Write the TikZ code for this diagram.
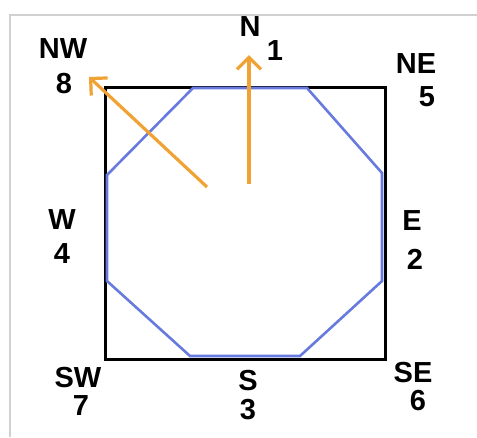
\documentclass[tikz,border=0pt]{standalone}
\usepackage{fontspec}
\setmainfont{Liberation Sans}
\usetikzlibrary{arrows.meta}

\definecolor{octblue}{RGB}{104,122,222}
\definecolor{arrorange}{RGB}{240,162,52}
\definecolor{framegray}{RGB}{208,208,208}

\tikzset{
    dirlabel/.style={inner sep=0pt, text height=0.72em, text depth=0pt,
        font=\fontsize{29}{29}\selectfont\bfseries},
    heading/.style={draw=arrorange, line width=3.2pt,
        -{Straight Barb[length=12pt,width=24pt]}}
}

\begin{document}
\begin{tikzpicture}[x=1pt,y=-1pt]

    \useasboundingbox (0,0) rectangle (477,437);

    % outer frame
    \draw[framegray, line width=2pt] (10,437) -- (10,15) -- (477,15);

    % square
    \draw[line width=3pt] (105,87) rectangle (385,359);

    % octagon
    \draw[octblue, line width=2.6pt]
        (193,88) -- (307,88) -- (382,173) -- (382,281)
        -- (300,356) -- (190,356) -- (107,281) -- (107,175) -- cycle;

    % compass labels
    \node[dirlabel] (N)   at (250,33)  {N};
    \node[dirlabel] (n1)  at (275,57)  {1};
    \node[dirlabel] (NE)  at (416,70)  {NE};
    \node[dirlabel] (n5)  at (427,103) {5};
    \node[dirlabel] (E)   at (412,227) {E};
    \node[dirlabel] (n2)  at (415,266) {2};
    \node[dirlabel] (SE)  at (413,379) {SE};
    \node[dirlabel] (n6)  at (418,407) {6};
    \node[dirlabel] (S)   at (248,387) {S};
    \node[dirlabel] (n3)  at (248,416) {3};
    \node[dirlabel] (SW)  at (78,384)  {SW};
    \node[dirlabel] (n7)  at (81,412)  {7};
    \node[dirlabel] (W)   at (62,226)  {W};
    \node[dirlabel] (n4)  at (62,260)  {4};
    \node[dirlabel] (NW)  at (63,55)   {NW};
    \node[dirlabel] (n8)  at (64,90)   {8};

    % heading arrows
    \coordinate (northtail) at (249,184);
    \coordinate (northtip)  at (249,55);
    \coordinate (nwtail)    at (207,187);
    \coordinate (nwtip)     at (89,77);
    \draw[heading] (northtail) -- (northtip);
    \draw[heading] (nwtail) -- (nwtip);

\end{tikzpicture}
\end{document}
